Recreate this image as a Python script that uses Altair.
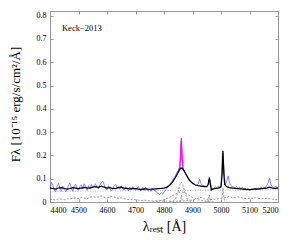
import altair as alt
import pandas as pd

# observed spectrum (blue), 5 A grid
obs_wl = list(range(4400, 5205, 5))
obs_flux = [
    0.060, 0.084, 0.072, 0.050, 0.044, 0.068, 0.080, 0.056, 0.046, 0.068,
    0.060, 0.044, 0.052, 0.072, 0.082, 0.058, 0.046, 0.068, 0.076, 0.054,
    0.050, 0.066, 0.074, 0.056, 0.078, 0.066, 0.050, 0.070, 0.056, 0.076,
    0.060, 0.072, 0.078, 0.062, 0.056, 0.074, 0.082, 0.090, 0.074, 0.058,
    0.052, 0.070, 0.058, 0.048, 0.054, 0.070, 0.076, 0.060, 0.066, 0.054,
    0.070, 0.058, 0.050, 0.066, 0.056, 0.048, 0.064, 0.052, 0.066, 0.056,
    0.050, 0.060, 0.066, 0.052, 0.048, 0.062, 0.050, 0.064, 0.054, 0.048,
    0.056, 0.046, 0.058, 0.050, 0.046, 0.042, 0.036, 0.032, 0.040, 0.034,
    0.042, 0.052, 0.058, 0.066, 0.076, 0.084, 0.094, 0.104, 0.114, 0.126,
    0.134, 0.150, 0.260, 0.150, 0.136, 0.124, 0.114, 0.102, 0.096, 0.088,
    0.082, 0.078, 0.074, 0.072, 0.076, 0.098, 0.078, 0.072, 0.070, 0.068,
    0.066, 0.076, 0.105, 0.068, 0.052, 0.060, 0.064, 0.062, 0.066, 0.068,
    0.068, 0.210, 0.150, 0.072, 0.088, 0.112, 0.082, 0.070, 0.066, 0.064,
    0.062, 0.066, 0.058, 0.064, 0.056, 0.062, 0.054, 0.058, 0.052, 0.057,
    0.050, 0.056, 0.058, 0.052, 0.060, 0.055, 0.061, 0.055, 0.063, 0.058,
    0.064, 0.060, 0.070, 0.082, 0.102, 0.076, 0.064, 0.060, 0.068, 0.064,
    0.062,
]

# total model (black)
model_wl = [4400, 4410, 4420, 4430, 4440, 4450, 4460, 4470, 4480, 4490,
            4500, 4510, 4520, 4530, 4540, 4550, 4560, 4570, 4580, 4590,
            4600, 4610, 4620, 4630, 4640, 4650, 4660, 4670, 4680, 4690,
            4700, 4710, 4720, 4730, 4740, 4750, 4760, 4770, 4780, 4790,
            4800, 4810, 4820, 4830, 4840, 4850, 4855, 4860, 4865, 4870,
            4880, 4890, 4900, 4910, 4920, 4930, 4940, 4950, 4955, 4959,
            4963, 4966, 4970, 4980, 4990, 5000, 5004, 5007, 5010, 5013,
            5020, 5030, 5040, 5050, 5060, 5070, 5080, 5090, 5100, 5110,
            5120, 5130, 5140, 5150, 5160, 5170, 5180, 5190, 5200]
model_flux = [0.060, 0.058, 0.055, 0.060, 0.062, 0.058, 0.055, 0.058, 0.062, 0.060,
              0.057, 0.060, 0.063, 0.061, 0.060, 0.064, 0.066, 0.063, 0.068, 0.064,
              0.060, 0.062, 0.058, 0.057, 0.062, 0.064, 0.060, 0.058, 0.056, 0.058,
              0.057, 0.055, 0.054, 0.056, 0.055, 0.054, 0.055, 0.056, 0.057, 0.058,
              0.060, 0.064, 0.072, 0.085, 0.105, 0.128, 0.140, 0.146, 0.144, 0.135,
              0.112, 0.092, 0.080, 0.073, 0.070, 0.068, 0.066, 0.066, 0.075, 0.105,
              0.075, 0.052, 0.055, 0.058, 0.060, 0.064, 0.120, 0.220, 0.120, 0.075,
              0.066, 0.062, 0.060, 0.058, 0.057, 0.056, 0.055, 0.054, 0.053, 0.054,
              0.056, 0.055, 0.057, 0.058, 0.060, 0.064, 0.060, 0.058, 0.060]

# narrow H-beta on top of model (magenta)
nhb_wl = [4850, 4855, 4858, 4861, 4864, 4867, 4872]
nhb_flux = [0.128, 0.145, 0.190, 0.275, 0.190, 0.142, 0.132]

# broad H-beta components (grey dashed)
bA_wl = [4760, 4780, 4800, 4820, 4840, 4850, 4861, 4870, 4880, 4900, 4920, 4940, 4960, 4980]
bA_flux = [0.0, 0.004, 0.010, 0.020, 0.034, 0.040, 0.044, 0.041, 0.034, 0.020, 0.010, 0.004, 0.001, 0.0]
bB_wl = [4820, 4830, 4840, 4850, 4856, 4861, 4866, 4872, 4882, 4892, 4900]
bB_flux = [0.0, 0.002, 0.012, 0.045, 0.075, 0.086, 0.075, 0.045, 0.012, 0.002, 0.0]
# narrow components (grey dashed)
n1_wl = [4855, 4858, 4861, 4864, 4867]
n1_flux = [0.0, 0.010, 0.030, 0.010, 0.0]
n2_wl = [4953, 4956, 4959, 4962, 4965]
n2_flux = [0.0, 0.008, 0.030, 0.008, 0.0]
n3_wl = [5001, 5004, 5007, 5010, 5013]
n3_flux = [0.0, 0.020, 0.060, 0.020, 0.0]
# Fe II template (grey dashed)
fe_wl = [4400, 4410, 4420, 4430, 4440, 4450, 4460, 4470, 4480, 4490,
         4500, 4510, 4520, 4530, 4540, 4550, 4560, 4570, 4580, 4590,
         4600, 4610, 4620, 4630, 4640, 4650, 4660, 4670, 4680, 4690,
         4700, 4710, 4720, 4730, 4740, 4750, 4800, 4850, 4900, 4920,
         4930, 4940, 4960, 4980, 5000, 5020, 5030, 5040, 5060, 5080,
         5100, 5120, 5140, 5160, 5180, 5200]
fe_flux = [0.010, 0.012, 0.008, 0.014, 0.012, 0.010, 0.013, 0.016, 0.014, 0.018,
           0.015, 0.020, 0.017, 0.014, 0.020, 0.024, 0.020, 0.022, 0.026, 0.020,
           0.018, 0.022, 0.024, 0.020, 0.016, 0.018, 0.014, 0.012, 0.010, 0.012,
           0.010, 0.008, 0.006, 0.008, 0.006, 0.005, 0.004, 0.003, 0.008, 0.016,
           0.020, 0.014, 0.010, 0.012, 0.016, 0.020, 0.024, 0.018, 0.022, 0.016,
           0.014, 0.018, 0.014, 0.016, 0.012, 0.010]
# power-law continuum (grey dotted)
pl_wl = [4400, 5200]
pl_flux = [0.045, 0.053]

x_ticks = [4400, 4500, 4600, 4700, 4800, 4900, 5000, 5100, 5200]
y_ticks = [0.0, 0.1, 0.2, 0.3, 0.4, 0.5, 0.6, 0.7, 0.8]

FONT = "Liberation Serif"
xs = alt.Scale(domain=[4400, 5200], nice=False, zero=False)
ys = alt.Scale(domain=[0, 0.82], nice=False)

def df(wl, fl):
    return pd.DataFrame({"wl": wl, "f": fl})

def enc(chart, xaxis=None, yaxis=None):
    return chart.encode(
        x=alt.X("wl:Q", scale=xs, axis=xaxis),
        y=alt.Y("f:Q", scale=ys, axis=yaxis),
    )

bottom_axis = alt.Axis(values=x_ticks, orient="bottom", offset=-3, tickSize=3, domain=False,
                       grid=False, tickColor="#999999", labelFont=FONT, labelFontSize=8,
                       labelColor="black", labelPadding=4, format="d", title="λᵣₑₛₜ [Å]",
                       titleFont=FONT, titleFontSize=14, titleFontWeight="normal",
                       titleColor="black", titlePadding=5)
left_axis = alt.Axis(values=y_ticks, orient="left", offset=-3, tickSize=3, domain=False,
                     grid=False, tickColor="#999999", labelFont=FONT, labelFontSize=8,
                     labelColor="black", labelPadding=4,
                     labelExpr="datum.value == 0 ? '0' : format(datum.value, '.1f')",
                     title="Fλ [10⁻¹⁵ erg/s/cm²/Å]", titleFont=FONT, titleFontSize=13,
                     titleFontWeight="normal", titleColor="black",
                     titleX=-31, titleY=93, titleAngle=270, titleAlign="center",
                     titleBaseline="bottom")
top_axis = alt.Axis(values=x_ticks, orient="top", offset=-3, tickSize=3, domain=False,
                    grid=False, tickColor="#999999", labels=False, title=None)
right_axis = alt.Axis(values=y_ticks, orient="right", offset=-3, tickSize=3, domain=False,
                      grid=False, tickColor="#999999", labels=False, title=None)

grey = "#6f6f6f"
dash_style = dict(color=grey, strokeWidth=0.7, strokeDash=[2, 1.5], clip=True)

layers = [
    enc(alt.Chart(df(pl_wl, pl_flux)).mark_line(color="#999999", strokeWidth=0.7,
        strokeDash=[1, 1.5], clip=True), bottom_axis, left_axis),
    enc(alt.Chart(df(pl_wl, pl_flux)).mark_line(opacity=0, clip=True), top_axis, right_axis),
    enc(alt.Chart(df(fe_wl, fe_flux)).mark_line(**dash_style)),
    enc(alt.Chart(df(bA_wl, bA_flux)).mark_line(**dash_style)),
    enc(alt.Chart(df(bB_wl, bB_flux)).mark_line(**dash_style)),
    enc(alt.Chart(df(n1_wl, n1_flux)).mark_line(**dash_style)),
    enc(alt.Chart(df(n2_wl, n2_flux)).mark_line(**dash_style)),
    enc(alt.Chart(df(n3_wl, n3_flux)).mark_line(**dash_style)),
    enc(alt.Chart(df(obs_wl, obs_flux)).mark_line(color="#4a4aff", strokeWidth=0.8,
        opacity=0.85, clip=True)),
    enc(alt.Chart(df(nhb_wl, nhb_flux)).mark_line(color="#ff00ff", strokeWidth=1.2, clip=True)),
    enc(alt.Chart(df(model_wl, model_flux)).mark_line(color="#000000", strokeWidth=1.25, clip=True)),
    alt.Chart(pd.DataFrame({"wl": [4442], "f": [0.748], "t": ["Keck−2013"]})).mark_text(
        align="left", baseline="middle", font=FONT, fontSize=8.5, color="black"
    ).encode(x=alt.X("wl:Q", scale=xs, axis=None), y=alt.Y("f:Q", scale=ys, axis=None), text="t:N"),
]

chart = alt.layer(*layers).resolve_axis(x="independent", y="independent").properties(
    width=228, height=191,
    autosize=alt.AutoSizeParams(type="none"),
    padding={"left": 42, "top": 3, "right": 8, "bottom": 38},
).configure_view(stroke="#999999", strokeWidth=1)

chart.save("out.html", embed_options={"renderer": "svg", "actions": False})
